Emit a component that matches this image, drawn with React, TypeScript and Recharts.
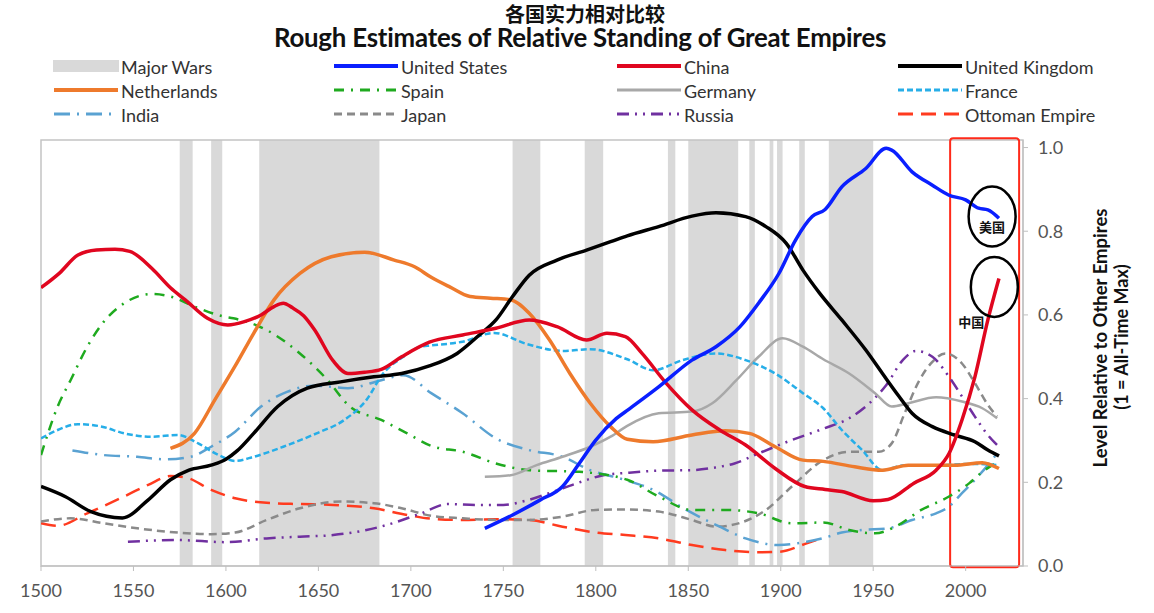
import React from 'react';
import { ComposedChart, Line, XAxis, YAxis, ReferenceArea, ReferenceDot } from 'recharts';

// ---------- data (year, level) ----------
const chinaData: [number, number][] = [
  [1500, 0.665], [1510, 0.7], [1520, 0.743], [1530, 0.755], [1540, 0.757], [1548, 0.752], [1560, 0.711],
  [1570, 0.665], [1578, 0.636], [1590, 0.592], [1601, 0.576], [1610, 0.584], [1619, 0.6], [1626, 0.62],
  [1631, 0.628], [1636, 0.617], [1642, 0.598], [1648, 0.564], [1658, 0.49], [1666, 0.46], [1675, 0.463],
  [1684, 0.47], [1695, 0.5], [1710, 0.535], [1728, 0.552], [1746, 0.568], [1764, 0.588], [1779, 0.572],
  [1795, 0.54], [1806, 0.556], [1816, 0.548], [1825, 0.508], [1838, 0.437], [1852, 0.373], [1867, 0.325],
  [1881, 0.289], [1897, 0.233], [1913, 0.19], [1924, 0.183], [1933, 0.178], [1950, 0.156], [1958, 0.159],
  [1972, 0.198], [1984, 0.229], [1991, 0.269], [1998, 0.349], [2005, 0.452], [2012, 0.588], [2018, 0.687],
];
const usData: [number, number][] = [
  [1740, 0.09], [1755, 0.122], [1770, 0.158], [1782, 0.19], [1791, 0.245], [1800, 0.301], [1811, 0.352],
  [1818, 0.375], [1834, 0.428], [1852, 0.492], [1865, 0.524], [1878, 0.572], [1888, 0.628], [1899, 0.699],
  [1908, 0.779], [1917, 0.835], [1924, 0.852], [1933, 0.906], [1946, 0.95], [1957, 0.998], [1960, 0.994],
  [1971, 0.942], [1982, 0.91], [1991, 0.886], [2000, 0.875], [2007, 0.855], [2012, 0.851], [2018, 0.831],
];
const ukData: [number, number][] = [
  [1500, 0.19], [1513, 0.166], [1527, 0.13], [1544, 0.115], [1558, 0.158], [1570, 0.206], [1580, 0.229],
  [1592, 0.241], [1600, 0.255], [1606, 0.275], [1615, 0.317], [1628, 0.381], [1644, 0.425], [1662, 0.44],
  [1680, 0.452], [1695, 0.46], [1710, 0.478], [1725, 0.508], [1737, 0.552], [1746, 0.588], [1755, 0.644],
  [1764, 0.695], [1779, 0.731], [1795, 0.755], [1808, 0.775], [1817, 0.789], [1834, 0.811], [1852, 0.836],
  [1865, 0.844], [1881, 0.835], [1892, 0.811], [1903, 0.771], [1912, 0.707], [1921, 0.652], [1933, 0.588],
  [1946, 0.516], [1955, 0.46], [1964, 0.405], [1971, 0.365], [1982, 0.333], [1994, 0.313], [2005, 0.297],
  [2012, 0.277], [2018, 0.263],
];
const netherlandsData: [number, number][] = [
  [1570, 0.281], [1583, 0.317], [1594, 0.397], [1605, 0.478], [1615, 0.556], [1626, 0.636], [1640, 0.699],
  [1657, 0.739], [1675, 0.75], [1691, 0.731], [1702, 0.715], [1711, 0.69], [1721, 0.667], [1732, 0.644],
  [1743, 0.64], [1754, 0.636], [1764, 0.604], [1775, 0.54], [1786, 0.46], [1797, 0.389], [1808, 0.333],
  [1817, 0.303], [1831, 0.297], [1852, 0.313], [1870, 0.323], [1883, 0.317], [1897, 0.285], [1912, 0.253],
  [1923, 0.25], [1940, 0.237], [1955, 0.229], [1969, 0.241], [1994, 0.241], [2009, 0.247], [2018, 0.233],
];
const spainData: [number, number][] = [
  [1500, 0.265], [1509, 0.381], [1516, 0.444], [1525, 0.524], [1534, 0.584], [1545, 0.628], [1560, 0.65],
  [1570, 0.644], [1583, 0.62], [1599, 0.596], [1604, 0.592], [1622, 0.564], [1640, 0.508], [1655, 0.444],
  [1667, 0.381], [1684, 0.349], [1698, 0.317], [1711, 0.287], [1728, 0.273], [1746, 0.245], [1764, 0.229],
  [1791, 0.225], [1817, 0.206], [1834, 0.166], [1852, 0.134], [1870, 0.134], [1888, 0.126], [1906, 0.102],
  [1923, 0.104], [1937, 0.086], [1951, 0.078], [1962, 0.094], [1976, 0.134], [1991, 0.166], [2002, 0.198],
  [2009, 0.225], [2016, 0.245],
];
const germanyData: [number, number][] = [
  [1740, 0.213], [1754, 0.217], [1768, 0.241], [1782, 0.261], [1797, 0.285], [1808, 0.309], [1817, 0.335],
  [1834, 0.365], [1852, 0.369], [1863, 0.389], [1876, 0.444], [1888, 0.5], [1901, 0.544], [1912, 0.524],
  [1923, 0.494], [1937, 0.46], [1951, 0.413], [1960, 0.381], [1969, 0.389], [1984, 0.403], [1998, 0.393],
  [2009, 0.377], [2017, 0.353],
];
const franceData: [number, number][] = [
  [1500, 0.305], [1509, 0.325], [1520, 0.339], [1533, 0.333], [1545, 0.317], [1560, 0.309], [1574, 0.313],
  [1585, 0.293], [1596, 0.265], [1605, 0.251], [1615, 0.261], [1631, 0.285], [1649, 0.317], [1664, 0.349],
  [1676, 0.397], [1685, 0.46], [1696, 0.5], [1705, 0.524], [1711, 0.527], [1728, 0.536], [1745, 0.557],
  [1763, 0.53], [1782, 0.514], [1797, 0.518], [1817, 0.494], [1831, 0.468], [1847, 0.492], [1865, 0.508],
  [1881, 0.492], [1897, 0.46], [1912, 0.413], [1923, 0.377], [1933, 0.325], [1944, 0.277], [1955, 0.229],
  [1967, 0.241], [1985, 0.241], [2003, 0.244], [2018, 0.241],
];
const indiaData: [number, number][] = [
  [1517, 0.276], [1534, 0.265], [1552, 0.261], [1567, 0.255], [1581, 0.261], [1592, 0.285], [1605, 0.321],
  [1619, 0.381], [1633, 0.416], [1648, 0.431], [1666, 0.425], [1684, 0.444], [1696, 0.456], [1711, 0.413],
  [1728, 0.365], [1746, 0.305], [1764, 0.277], [1782, 0.261], [1797, 0.229], [1814, 0.208], [1831, 0.182],
  [1849, 0.134], [1867, 0.094], [1881, 0.066], [1899, 0.05], [1914, 0.058], [1924, 0.068], [1933, 0.08],
  [1944, 0.086], [1958, 0.09], [1971, 0.11], [1984, 0.126], [1991, 0.142], [1998, 0.174], [2005, 0.206],
  [2012, 0.241], [2017, 0.269],
];
const japanData: [number, number][] = [
  [1500, 0.106], [1516, 0.114], [1534, 0.102], [1552, 0.09], [1574, 0.08], [1592, 0.076], [1605, 0.08],
  [1622, 0.11], [1640, 0.138], [1662, 0.154], [1680, 0.15], [1695, 0.138], [1711, 0.12], [1728, 0.114],
  [1746, 0.11], [1764, 0.11], [1782, 0.118], [1800, 0.134], [1817, 0.135], [1834, 0.13], [1852, 0.11],
  [1865, 0.094], [1880, 0.106], [1892, 0.134], [1906, 0.19], [1923, 0.253], [1937, 0.273], [1953, 0.273],
  [1960, 0.293], [1967, 0.365], [1975, 0.444], [1982, 0.488], [1989, 0.508], [1998, 0.484], [2005, 0.437],
  [2012, 0.385], [2017, 0.357],
];
const russiaData: [number, number][] = [
  [1547, 0.058], [1574, 0.062], [1600, 0.057], [1622, 0.066], [1640, 0.07], [1658, 0.074], [1676, 0.086],
  [1690, 0.102], [1705, 0.125], [1720, 0.148], [1735, 0.146], [1750, 0.146], [1762, 0.156], [1776, 0.176],
  [1790, 0.198], [1804, 0.217], [1818, 0.223], [1835, 0.228], [1852, 0.229], [1864, 0.235], [1875, 0.245],
  [1888, 0.269], [1906, 0.301], [1923, 0.328], [1937, 0.353], [1948, 0.389], [1957, 0.432], [1966, 0.492],
  [1973, 0.514], [1982, 0.5], [1991, 0.452], [1998, 0.405], [2005, 0.357], [2012, 0.313], [2017, 0.289],
];
const ottomanData: [number, number][] = [
  [1500, 0.102], [1509, 0.096], [1525, 0.126], [1543, 0.162], [1558, 0.194], [1570, 0.215], [1578, 0.212],
  [1592, 0.182], [1605, 0.162], [1622, 0.151], [1640, 0.148], [1658, 0.146], [1680, 0.138], [1698, 0.122],
  [1711, 0.113], [1728, 0.11], [1746, 0.112], [1764, 0.11], [1782, 0.094], [1800, 0.08], [1816, 0.074],
  [1834, 0.066], [1852, 0.05], [1870, 0.038], [1888, 0.033], [1899, 0.034], [1914, 0.054], [1923, 0.068],
];
const majorWars: [number, number][] = [
  [1575, 1582], [1592, 1598], [1618, 1683], [1755, 1770], [1794, 1804], [1839, 1843], [1850, 1877],
  [1883, 1886], [1894, 1896], [1898, 1901], [1910, 1913], [1926, 1950],
];
const xTicks = [1500, 1550, 1600, 1650, 1700, 1750, 1800, 1850, 1900, 1950, 2000];
const yTicks = [0, 0.2, 0.4, 0.6, 0.8, 1.0];
const titleZh = '各国实力相对比较';
const titleEn = 'Rough Estimates of Relative Standing of Great Empires';
const yLabel1 = 'Level Relative to Other Empires';
const yLabel2 = '(1 = All-Time Max)';
const usNote = { label: '美国', x: 2014.3, y: 0.835, tx: 2014.3, ty: 0.811 };
const chinaNote = { label: '中国', x: 2015.5, y: 0.667, tx: 2003, ty: 0.585 };
const highlightRange: [number, number] = [1991.6, 2028.9];

type S = { name: string; data: [number, number][]; color: string; width: number; dash?: string };
const series: S[] = [
  { name: 'United States', data: usData, color: '#0a1fff', width: 3.5 },
  { name: 'China', data: chinaData, color: '#e0061f', width: 3.5 },
  { name: 'United Kingdom', data: ukData, color: '#000000', width: 3.5 },
  { name: 'Netherlands', data: netherlandsData, color: '#ee7a2c', width: 3.5 },
  { name: 'Spain', data: spainData, color: '#1faa1f', width: 2.5, dash: '10 7 2 7' },
  { name: 'Germany', data: germanyData, color: '#a8a8a8', width: 2.5 },
  { name: 'France', data: franceData, color: '#27aee8', width: 2.5, dash: '6 3' },
  { name: 'India', data: indiaData, color: '#5aa2d2', width: 2.5, dash: '16 7 2 7' },
  { name: 'Japan', data: japanData, color: '#8a8a8a', width: 2.5, dash: '8 5' },
  { name: 'Russia', data: russiaData, color: '#7030a0', width: 2.5, dash: '12 6 2 6 2 6' },
  { name: 'Ottoman Empire', data: ottomanData, color: '#ff3b1f', width: 2.5, dash: '15 8' },
];
const drawOrder = ['Ottoman Empire', 'Japan', 'Russia', 'India', 'Spain', 'Germany', 'France', 'Netherlands', 'United Kingdom', 'China', 'United States'];
const legendOrder = [
  ['Major Wars', 'United States', 'China', 'United Kingdom'],
  ['Netherlands', 'Spain', 'Germany', 'France'],
  ['India', 'Japan', 'Russia', 'Ottoman Empire'],
];

const toPts = (d: [number, number][]) => d.map(([year, v]) => ({ year, v }));
const FONT = 'Lato, "Noto Sans", sans-serif';

const Swatch = ({ s }: { s?: S }) => (
  <svg width={66} height={14} style={{ position: 'absolute', left: -68, top: 1 }}>
    {s ? (
      <line x1={1} y1={7} x2={65} y2={7} stroke={s.color} strokeWidth={s.width + 0.5} strokeDasharray={s.dash} />
    ) : (
      <rect x={0} y={1} width={66} height={12} fill="#d9d9d9" />
    )}
  </svg>
);

const colX = [121, 401, 684, 965];
const rowY = [67, 91, 115];

export default function App() {
  const byName = (n: string) => series.find((s) => s.name === n)!;
  return (
    <div style={{ position: 'absolute', left: 0, top: 0, width: 1154, height: 613, background: '#fff', fontFamily: FONT }}>
      <svg width={1154} height={56} style={{ position: 'absolute', left: 0, top: 0 }}>
        <text x={585} y={13} textAnchor="middle" dominantBaseline="central" fontFamily='"Noto Sans CJK SC", sans-serif' fontWeight={700} fontSize={20} fill="#111">
          {titleZh}
        </text>
        <text x={580} y={37} textAnchor="middle" dominantBaseline="central" fontFamily={FONT} fontWeight={700} fontSize={25.8} letterSpacing={-0.2} fill="#111">
          {titleEn}
        </text>
      </svg>
      {legendOrder.map((row, ri) =>
        row.map((name, ci) => (
          <div key={name} style={{ position: 'absolute', left: colX[ci], top: rowY[ri] - 9, fontSize: 18, lineHeight: '18px', color: '#333', whiteSpace: 'nowrap' }}>
            <Swatch s={name === 'Major Wars' ? undefined : byName(name)} />
            {name}
          </div>
        ))
      )}
      <ComposedChart width={1154} height={613} margin={{ top: 140, left: 41, right: 71, bottom: 17 }} style={{ position: 'absolute', left: 0, top: 0 }}>
        <XAxis
          type="number"
          dataKey="year"
          domain={[1500, 2031]}
          ticks={xTicks}
          allowDataOverflow
          height={30}
          tickSize={5}
          tickMargin={13}
          axisLine={{ stroke: '#bfbfbf' }}
          tickLine={{ stroke: '#bfbfbf' }}
          tick={{ fill: '#555', fontSize: 18, fontFamily: FONT }}
        />
        <YAxis
          orientation="right"
          type="number"
          domain={[0, 1.018]}
          ticks={yTicks}
          allowDataOverflow
          width={60}
          tickSize={5}
          tickMargin={10}
          axisLine={{ stroke: '#bfbfbf' }}
          tickLine={{ stroke: '#bfbfbf' }}
          tickFormatter={(v: number) => v.toFixed(1)}
          tick={{ fill: '#555', fontSize: 18, fontFamily: FONT }}
        />
        {majorWars.map(([a, b]) => (
          <ReferenceArea key={a} x1={a} x2={b} y1={0} y2={1.018} fill="#d9d9d9" fillOpacity={1} stroke="none" ifOverflow="hidden" />
        ))}
        <ReferenceArea x1={1500} x2={2031} y1={0} y2={1.018} fill="none" stroke="#c4c4c4" strokeWidth={1.5} />
        {drawOrder.map((n) => {
          const s = byName(n);
          return (
            <Line
              key={n}
              data={toPts(s.data)}
              dataKey="v"
              name={n}
              type="monotone"
              stroke={s.color}
              strokeWidth={s.width}
              strokeDasharray={s.dash}
              dot={false}
              activeDot={false}
              isAnimationActive={false}
            />
          );
        })}
        <ReferenceArea
          x1={highlightRange[0]}
          x2={highlightRange[1]}
          y1={-0.003}
          y2={1.022}
          ifOverflow="visible"
          fill="none"
          stroke="#ff2a1a"
          strokeWidth={2}
          radius={3}
        />
        {[usNote, chinaNote].map((n) => (
          <ReferenceDot
            key={'e' + n.label}
            x={n.x}
            y={n.y}
            ifOverflow="visible"
            shape={(p: any) => <ellipse cx={p.cx} cy={p.cy} rx={23.5} ry={30} fill="none" stroke="#000" strokeWidth={2.5} />}
          />
        ))}
        {[usNote, chinaNote].map((n) => (
          <ReferenceDot
            key={'t' + n.label}
            x={n.tx}
            y={n.ty}
            ifOverflow="visible"
            shape={(p: any) => (
              <text x={p.cx} y={p.cy} textAnchor="middle" dominantBaseline="central" fontSize={13} fontWeight={700} fontFamily='"Noto Sans CJK SC", sans-serif' fill="#111">
                {n.label}
              </text>
            )}
          />
        ))}
      </ComposedChart>
      <svg width={1154} height={613} style={{ position: 'absolute', left: 0, top: 0, pointerEvents: 'none' }}>
        <text transform="translate(1100,338) rotate(-90)" textAnchor="middle" dominantBaseline="central" fontSize={18.5} fontWeight={700} fontFamily={FONT} fill="#111">
          {yLabel1}
        </text>
        <text transform="translate(1121,337) rotate(-90)" textAnchor="middle" dominantBaseline="central" fontSize={18} fontWeight={700} fontFamily={FONT} fill="#111">
          {yLabel2}
        </text>
      </svg>
    </div>
  );
}
